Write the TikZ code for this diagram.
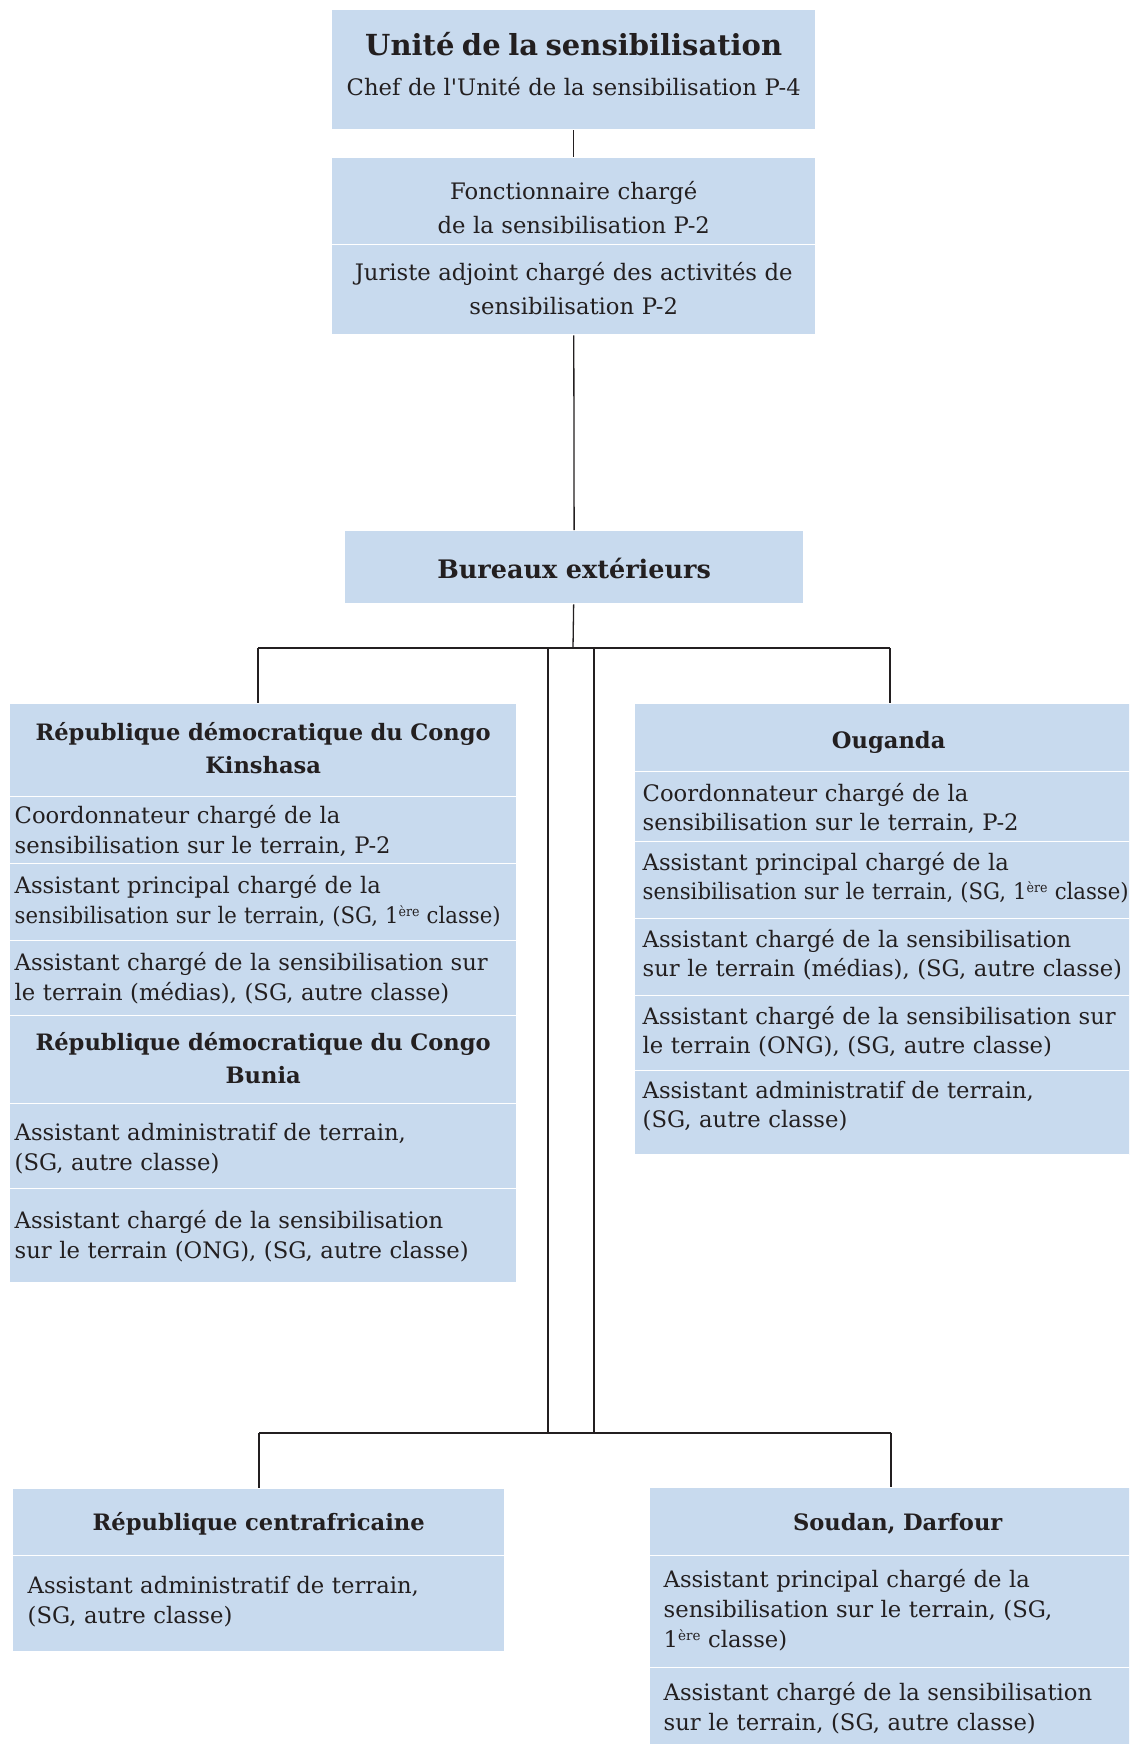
\documentclass[tikz,border=0pt]{standalone}
\usepackage{graphicx}
\usepackage{fontspec}
\setmainfont{DejaVu Serif}[Ligatures=TeXOff]
\usetikzlibrary{positioning}
\definecolor{cellblue}{RGB}{200,218,238}
\definecolor{ink}{RGB}{35,31,32}

\newcommand{\titlefont}{\fontsize{29}{34}\selectfont\bfseries}
\newcommand{\burfont}{\fontsize{25.5}{30}\selectfont\bfseries}
\newcommand{\headfont}{\fontsize{22.6}{33}\selectfont\bfseries}
\newcommand{\topfont}{\fontsize{22.7}{34}\selectfont}
\newcommand{\bodyfont}{\fontsize{22.7}{30}\selectfont}
\newcommand{\bodyfontb}{\fontsize{22.7}{29}\selectfont}
\newcommand{\ere}{1\raisebox{0.6ex}{\fontsize{13.5}{13.5}\selectfont ère}}
\newcommand{\squeeze}[1]{\scalebox{0.935}[1]{\mbox{#1}}}

\begin{document}
\begin{tikzpicture}[x=1pt,y=-1pt,
     cell/.style={fill=cellblue,draw=white,line width=1.4pt,anchor=north west,inner ysep=0pt,text=ink},
     hd/.style 2 args={text height=#1,text depth=#2},
     ctr/.style={cell,align=center,inner xsep=0pt},
     head/.style={ctr,font=\headfont},
     wire/.style={draw=ink,line width=1.3pt}]
    \useasboundingbox (0,0) rectangle (1129,1744);
    \clip (0,0) rectangle (1129,1744);

    % unite centrale
    \node[ctr,text width=484pt,font=\topfont,hd={46pt}{74pt}] (unite) at (331,9)
        {{\titlefont Unité de la sensibilisation}\\[6pt] Chef de l'Unité de la sensibilisation P-4};
    \node[ctr,text width=484pt,font=\topfont,hd={42pt}{45pt}] (fonct) at (331,157)
        {Fonctionnaire chargé\\ de la sensibilisation P-2};
    \node[ctr,text width=484pt,font=\topfont,hd={36pt}{54pt}] (juriste) at (331,244)
        {Juriste adjoint chargé des activités de\\ sensibilisation P-2};
    \node[ctr,text width=459pt,font=\burfont,hd={48pt}{25pt}] (bureaux) at (344,530)
        {Bureaux extérieurs};

    % RDC
    \node[head,text width=507pt,hd={36.7pt}{55.9pt}] (kin) at (9,703) {République démocratique du Congo\\ Kinshasa};
    \node[cell,align=left,inner xsep=5pt,text width=497pt,font=\bodyfont,hd={27.2pt}{39.8pt}] (k1) at (9,795.6)
        {Coordonnateur chargé de la\\ sensibilisation sur le terrain, P-2};
    \node[cell,align=left,inner xsep=5pt,text width=497pt,font=\bodyfont,hd={30.2pt}{47.1pt}] (k2) at (9,862.6)
        {Assistant principal chargé de la\\ \squeeze{sensibilisation sur le terrain, (SG, \ere{} classe)}};
    \node[cell,align=left,inner xsep=5pt,text width=497pt,font=\bodyfont,hd={29.4pt}{45.6pt}] (k3) at (9,939.9)
        {Assistant chargé de la sensibilisation sur\\ le terrain (médias), (SG, autre classe)};
    \node[head,text width=507pt,hd={34.8pt}{52.8pt}] (bun) at (9,1014.9) {République démocratique du Congo\\ Bunia};
    \node[cell,align=left,inner xsep=5pt,text width=497pt,font=\bodyfont,hd={37.1pt}{47.9pt}] (b1) at (9,1102.5)
        {Assistant administratif de terrain,\\ (SG, autre classe)};
    \node[cell,align=left,inner xsep=5pt,text width=497pt,font=\bodyfont,hd={40.1pt}{54.4pt}] (b2) at (9,1187.5)
        {Assistant chargé de la sensibilisation\\ sur le terrain (ONG), (SG, autre classe)};

    % Ouganda
    \node[head,text width=508pt,hd={45pt}{23pt}] (oug) at (634,703) {Ouganda};
    \node[cell,align=left,inner xsep=8pt,text width=520pt,font=\bodyfontb,hd={30pt}{40pt}] (o1) at (634,771)
        {Coordonnateur chargé de la\\ sensibilisation sur le terrain, P-2};
    \node[cell,align=left,inner xsep=8pt,text width=520pt,font=\bodyfontb,hd={29pt}{48pt}] (o2) at (634,841)
        {Assistant principal chargé de la\\ \squeeze{sensibilisation sur le terrain, (SG, \ere{} classe)}};
    \node[cell,align=left,inner xsep=8pt,text width=520pt,font=\bodyfontb,hd={29pt}{48pt}] (o3) at (634,918)
        {Assistant chargé de la sensibilisation\\ sur le terrain (médias), (SG, autre classe)};
    \node[cell,align=left,inner xsep=8pt,text width=520pt,font=\bodyfontb,hd={29pt}{46pt}] (o4) at (634,995)
        {Assistant chargé de la sensibilisation sur\\ le terrain (ONG), (SG, autre classe)};
    \node[cell,align=left,inner xsep=8pt,text width=520pt,font=\bodyfontb,hd={28pt}{56pt}] (o5) at (634,1070)
        {Assistant administratif de terrain,\\ (SG, autre classe)};

    % Republique centrafricaine
    \node[head,text width=492pt,hd={42pt}{25pt}] (rca) at (12,1488) {République centrafricaine};
    \node[cell,align=left,inner xsep=15pt,text width=462pt,font=\bodyfont,hd={38pt}{58pt}] (r1) at (12,1555)
        {Assistant administratif de terrain,\\ (SG, autre classe)};

    % Soudan
    \node[head,text width=496pt,hd={43pt}{25pt}] (sou) at (649,1487) {Soudan, Darfour};
    \node[cell,align=left,inner xsep=14pt,text width=480pt,font=\bodyfont,hd={32pt}{80pt}] (s1) at (649,1555)
        {Assistant principal chargé de la\\ sensibilisation sur le terrain, (SG,\\ \ere{} classe)};
    \node[cell,align=left,inner xsep=14pt,text width=480pt,font=\bodyfont,hd={33pt}{60pt}] (s2) at (649,1667)
        {Assistant chargé de la sensibilisation\\ sur le terrain, (SG, autre classe)};

    % liaisons
    \coordinate (bus)   at (573,648);
    \coordinate (busL)  at (258,648);
    \coordinate (busR)  at (890,648);
    \coordinate (p1)    at (548,648);
    \coordinate (p2)    at (594,648);
    \coordinate (lowL)  at (259,1433);
    \coordinate (lowR)  at (891,1433);
    \draw[wire] (unite) -- (fonct);
    \draw[wire] (juriste) -- (bureaux);
    \draw[wire] (bureaux) -- (bus);
    \draw[wire] (busL) -- (busR);
    \draw[wire] (busL) -- (busL |- kin.north);
    \draw[wire] (busR) -- (busR |- oug.north);
    \draw[wire] (p1) -- (p1 |- lowL);
    \draw[wire] (p2) -- (p2 |- lowL);
    \draw[wire] (lowL) -- (lowR);
    \draw[wire] (lowL) -- (lowL |- rca.north);
    \draw[wire] (lowR) -- (lowR |- sou.north);
  \end{tikzpicture}
\end{document}
